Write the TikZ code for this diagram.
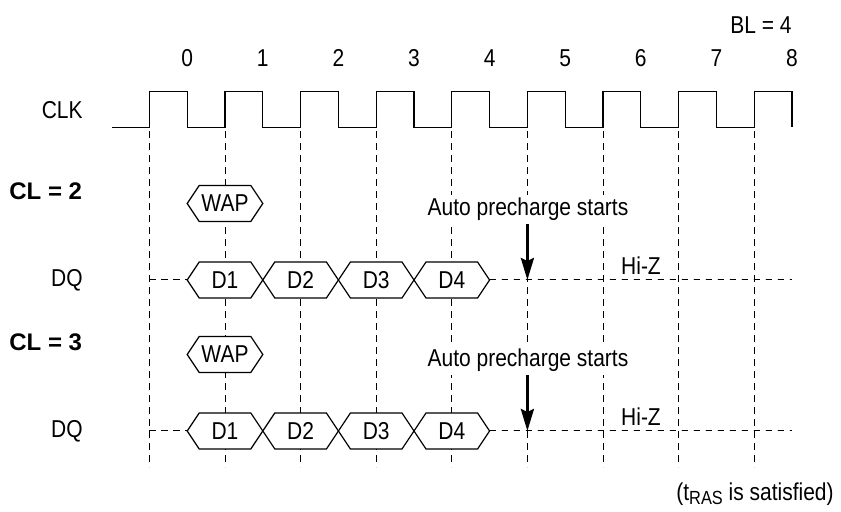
\documentclass[tikz,border=0pt]{standalone}
\usepackage{fontspec}
\setmainfont{Liberation Sans}[FakeStretch=0.86]
\newfontfamily\clfont{Liberation Sans}
\usetikzlibrary{arrows.meta}
\definecolor{Ink}{HTML}{000000}
\tikzset{
  sig/.style={inner sep=0pt, font=\fontsize{12.2}{14}\selectfont, text=Ink},
  cl/.style={inner sep=0pt, anchor=west, font=\clfont\bfseries\fontsize{12}{14}\selectfont, text=Ink},
  wave/.style={draw=Ink, line width=0.6pt, line join=miter},
  edgeline/.style={draw=Ink, line width=0.5pt, dash pattern=on 3.4pt off 2.6pt},
  hiz/.style={draw=Ink, line width=0.5pt, dash pattern=on 3.4pt off 2.6pt},
  starts/.style={-{Stealth[length=11pt,width=6.5pt,inset=1.5pt]}, line width=1.5pt, draw=Ink}
}
% bus value: name, left x, right x, centre y, text
\newcommand{\busbox}[5]{%
  \draw[wave,fill=white] ({#2},{#4}) -- ({#2+12},{#4-18}) -- ({#3-12},{#4-18}) -- ({#3},{#4})
    -- ({#3-12},{#4+18}) -- ({#2+12},{#4+18}) -- cycle;
  \node[sig] (#1) at ({(#2+#3)/2},{#4}) {#5};}

\begin{document}
\begin{tikzpicture}[x=0.5pt,y=-0.5pt]
  \useasboundingbox (0,0) rectangle (841,512);
  % clock and cycle numbers
  \node[sig,anchor=east] (bl) at (792,25) {BL = 4};
  \foreach \k in {0,...,8}
    \node[sig] (n\k) at ({187.2+75.6*\k},58) {\k};
  \node[sig,anchor=east] (clk) at (83,110) {CLK};
  \draw[wave] (112,127.4) foreach \k in {0,...,8}
    {-- ({149.4+75.6*\k},127.4) -- ++(0,-35.6) -- ++(37.8,0) -- ++(0,35.6)};
  \foreach \k in {0,...,8}
    \draw[edgeline] ({149.4+75.6*\k},131) -- ++(0,336);

  % CL = 2 and CL = 3
  \foreach \n/\o in {2/0,3/151}{
    \node[cl] (cl\n) at (9,{191+\o}) {CL = \n};
    \busbox{wap\n}{187.2}{262.8}{203.5+\o}{WAP}
    \node[sig,anchor=east] (dq\n) at (83,{280+\o}) {DQ};
    \draw[hiz] (149.4,{280+\o}) -- (187.2,{280+\o});
    \foreach \d in {1,...,4}
      \busbox{d\n\d}{187.2+75.6*(\d-1)}{187.2+75.6*\d}{280+\o}{D\d}
    \draw[hiz] (489.6,{280+\o}) -- (792,{280+\o});
    \node[sig,anchor=base] (hz\n) at (641,{275+\o}) {Hi-Z};
    \node[sig,anchor=base,fill=white,inner xsep=1pt,inner ysep=1.5pt] (ap\n) at (528,{216+\o}) {Auto precharge starts};
    \coordinate (pc\n) at (527.4,{280+\o});
    \draw[starts] (ap\n.south -| pc\n) -- (pc\n);
  }
  \node[sig,anchor=east] (tras) at (834,494)
    {(t\raisebox{-0.35ex}{\fontsize{9.5}{10}\selectfont RAS} is satisfied)};
\end{tikzpicture}
\end{document}
